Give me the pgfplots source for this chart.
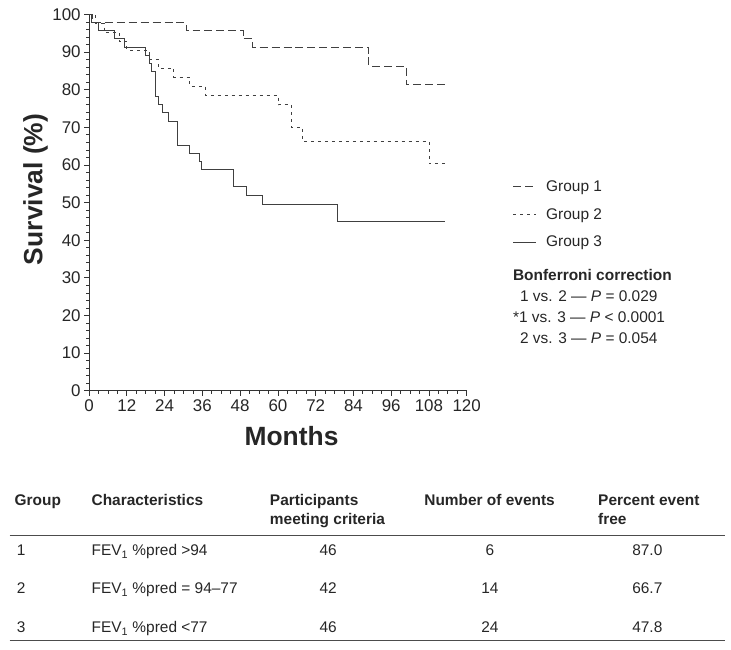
\documentclass[border=0pt]{standalone}
\usepackage{fontspec}
\setmainfont{Liberation Sans}
\usepackage{pgfplots}
\pgfplotsset{compat=1.18}
\begin{document}
\newcommand{\fs}{\fontsize{15.5}{18}\selectfont}
\begin{tikzpicture}[x=1pt,y=1pt]
\path[use as bounding box] (0,0) rectangle (731,652);
\begin{axis}[
  at={(86.7pt,259.7pt)}, anchor=south west,
  scale only axis, width=379pt, height=377.8pt,
  xmin=0,xmax=120,ymin=0,ymax=100,
  axis lines=left, axis line style={-, line width=0.8pt, black!80},
  xtick={0,12,...,120}, ytick={0,10,...,100},
  minor x tick num=3, minor y tick num=4,
  tick align=outside, major tick length=5pt, minor tick length=3pt,
  tick style={line width=0.8pt, black!80},
  /pgf/number format/assume math mode=true,
  tick label style={font=\fontsize{17}{19}\selectfont, text=black!85},
  xlabel={Months}, ylabel={Survival (\%)},
  label style={font=\fontsize{26.5}{29}\selectfont\bfseries, text=black!85},
  xlabel style={at={(axis description cs:0.536,-0.121)}, anchor=center},
  ylabel style={at={(axis description cs:-0.142,0.535)}, anchor=center},
  legend style={at={(axis description cs:1.114,0.567)}, anchor=north west, draw=none, fill=none, font=\fs, text=black!85, row sep=13.5pt, nodes={inner sep=1pt}},
  legend cell align=left,
  legend image code/.code={\draw[#1] (0pt,0pt) -- (23pt,0pt); \path[draw=none] (0pt,0pt) -- (32pt,0pt);},
]
\addplot[const plot, line width=0.8pt, black!75, dash pattern=on 8pt off 4pt] coordinates {
(0,100) (1,97.8) (30.9,95.7) (49,93.5) (52,91.3) (88.9,86.3) (100.8,81.3) (113,81.3)};
\addlegendentry{Group 1}
\addplot[const plot, line width=0.8pt, black!75, dash pattern=on 3pt off 4pt] coordinates {
(0,100) (1.9,97.6) (4.7,95.2) (9.5,92.9) (12,90.5) (19,88.1) (21.9,85.7) (26.9,83.3) (31.9,81.0) (36.9,78.6) (60,76.0) (64.2,70.1) (67.8,66.3) (108,60.3) (113,60.3)};
\addlegendentry{Group 2}
\addplot[const plot, line width=0.8pt, black!75] coordinates {
(0,100) (0.8,97.8) (2.9,95.7) (7.9,93.5) (11.1,91.3) (17.9,89.1) (19.0,87.0) (19.8,84.8) (20.9,78.3) (21.9,76.1) (23.2,73.9) (25.1,71.7) (28.2,65.2) (32.0,63.0) (35.0,60.9) (35.7,58.7) (45.9,54.3) (49.9,52.0) (55.0,49.6) (79.0,45.0) (113,45.0)};
\addlegendentry{Group 3}
\end{axis}
\begin{scope}[every node/.style={inner sep=0pt, font=\fs, text=black!85}]
\node[anchor=base west, font=\fs\bfseries] at (512,370.5) {Bonferroni correction};
\node[anchor=base west] at (519,349.2) {1 vs. 2 — \textit{P} = 0.029};
\node[anchor=base west] at (512,328.2) {*1 vs. 3 — \textit{P} < 0.0001};
\node[anchor=base west] at (519,307.5) {2 vs. 3 — \textit{P} = 0.054};
% table header
\node[anchor=base west, font=\fs\bfseries] at (11.7,145) {Group};
\node[anchor=base west, font=\fs\bfseries] at (89,145) {Characteristics};
\node[anchor=base west, font=\fs\bfseries] at (268,145) {Participants};
\node[anchor=base west, font=\fs\bfseries] at (268,125) {meeting criteria};
\node[anchor=base west, font=\fs\bfseries] at (423,145) {Number of events};
\node[anchor=base west, font=\fs\bfseries] at (597.5,145) {Percent event};
\node[anchor=base west, font=\fs\bfseries] at (597.5,125) {free};
\draw[line width=0.8pt, black!70] (7,114.7) -- (725,114.7);
% rows
\node[anchor=base west] at (14,94) {1};
\node[anchor=base west] at (89,94) {FEV\textsubscript{1} \%pred >94};
\node[anchor=base] at (326.6,94) {46};
\node[anchor=base] at (489,94) {6};
\node[anchor=base] at (647,94) {87.0};
\node[anchor=base west] at (14,56) {2};
\node[anchor=base west] at (89,56) {FEV\textsubscript{1} \%pred = 94–77};
\node[anchor=base] at (326.6,56) {42};
\node[anchor=base] at (489,56) {14};
\node[anchor=base] at (647,56) {66.7};
\node[anchor=base west] at (14,17) {3};
\node[anchor=base west] at (89,17) {FEV\textsubscript{1} \%pred <77};
\node[anchor=base] at (326.6,17) {46};
\node[anchor=base] at (489,17) {24};
\node[anchor=base] at (647,17) {47.8};
\draw[line width=0.8pt, black!70] (7,8.7) -- (725,8.7);
\end{scope}
\end{tikzpicture}
\end{document}
